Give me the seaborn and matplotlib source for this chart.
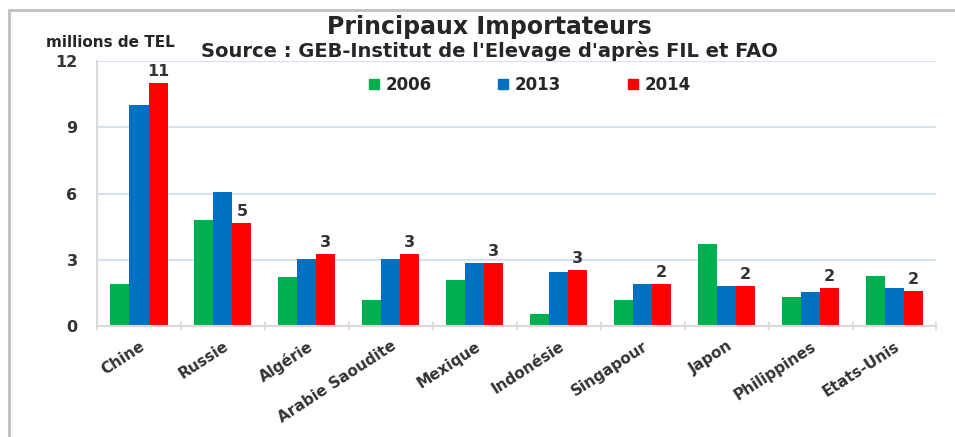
import pandas as pd
import matplotlib.pyplot as plt
import seaborn as sns
from matplotlib.patches import Rectangle

# Data (millions de TEL)
pays = ["Chine", "Russie", "Algérie", "Arabie Saoudite", "Mexique",
        "Indonésie", "Singapour", "Japon", "Philippines", "Etats-Unis"]
v2006 = [1.9, 4.8, 2.2, 1.2, 2.1, 0.55, 1.2, 3.7, 1.3, 2.25]
v2013 = [10.0, 6.05, 3.05, 3.05, 2.85, 2.45, 1.9, 1.8, 1.55, 1.7]
v2014 = [11.0, 4.65, 3.25, 3.25, 2.85, 2.55, 1.9, 1.8, 1.7, 1.6]
labels2014 = ["11", "5", "3", "3", "3", "3", "2", "2", "2", "2"]
annees = ["2006", "2013", "2014"]
couleurs = ["#00B050", "#0070C0", "#FF0000"]

# Long format for seaborn
df = pd.DataFrame({"Pays": pays, "2006": v2006, "2013": v2013, "2014": v2014})
df = df.melt(id_vars="Pays", var_name="Annee", value_name="valeur")

sns.set_style("white")
plt.rcParams["font.family"] = ["DejaVu Sans"]
txt = "#333333"

fig = plt.figure(figsize=(9.55, 4.37), dpi=100)
ax = fig.add_axes([0.1016, 0.254, 0.879, 0.606])

sns.barplot(data=df, x="Pays", y="valeur", hue="Annee", hue_order=annees,
            palette=couleurs, width=0.68, saturation=1, ax=ax, legend=False,
            linewidth=0)

# Labels above the 2014 bars
ax.bar_label(ax.containers[2], labels=labels2014, padding=3,
             fontsize=11.5, fontweight="bold", color=txt)

# Axes styling
ax.set_ylim(0, 12)
ax.set_yticks([0, 3, 6, 9, 12])
ax.set_xlim(-0.5, len(pays) - 0.5)
ax.yaxis.grid(True, color="#D6E0F2", linewidth=1.5)
ax.set_axisbelow(True)
for s in ["top", "right"]:
    ax.spines[s].set_visible(False)
ax.spines["left"].set_color("#D9D9D9")
ax.spines["left"].set_linewidth(1.5)
ax.spines["bottom"].set_color("#D9D9D9")
ax.spines["bottom"].set_linewidth(1.5)
ax.set_xlabel("")
ax.set_ylabel("")

ax.set_xticks(range(len(pays)))
ax.set_xticklabels(pays, rotation=33, ha="right", rotation_mode="anchor",
                   fontsize=11, fontweight="bold", color=txt)
ax.tick_params(axis="x", length=0, pad=9)
ax.tick_params(axis="y", length=9, width=1.2, color="#D9D9D9", pad=5,
               labelsize=11.5, labelcolor=txt)
for t in ax.get_yticklabels():
    t.set_fontweight("bold")

# category separator ticks on x axis
for i in range(len(pays) + 1):
    ax.plot([i - 0.5, i - 0.5], [-0.2, 0.2], color="#D9D9D9", lw=1.2,
            clip_on=False, transform=ax.transData)

# Legend
handles = [plt.Line2D([], [], marker="s", linestyle="", color=c, markersize=7)
           for c in couleurs]
fig.legend(handles, annees, loc="center", bbox_to_anchor=(0.553, 0.805),
           ncol=3, frameon=False, columnspacing=3.8, handletextpad=0.2,
           handlelength=1.0, prop={"weight": "bold", "size": 12})

# Titles
fig.text(0.512, 0.938, "Principaux Importateurs", ha="center", va="center",
         fontsize=17, fontweight="bold", color="#262626")
fig.text(0.513, 0.883, "Source : GEB-Institut de l'Elevage d'après FIL et FAO",
         ha="center", va="center", fontsize=14, fontweight="bold",
         color="#262626")
fig.text(0.116, 0.902, "millions de TEL", ha="center", va="center",
         fontsize=11, fontweight="bold", color="#262626")

# outer frame of the chart
fig.patches.append(Rectangle((0.009, -0.05), 1.2, 1.027, transform=fig.transFigure,
                             fill=False, edgecolor="#BFBFBF", linewidth=2))

fig.savefig("out.png", dpi=100)
